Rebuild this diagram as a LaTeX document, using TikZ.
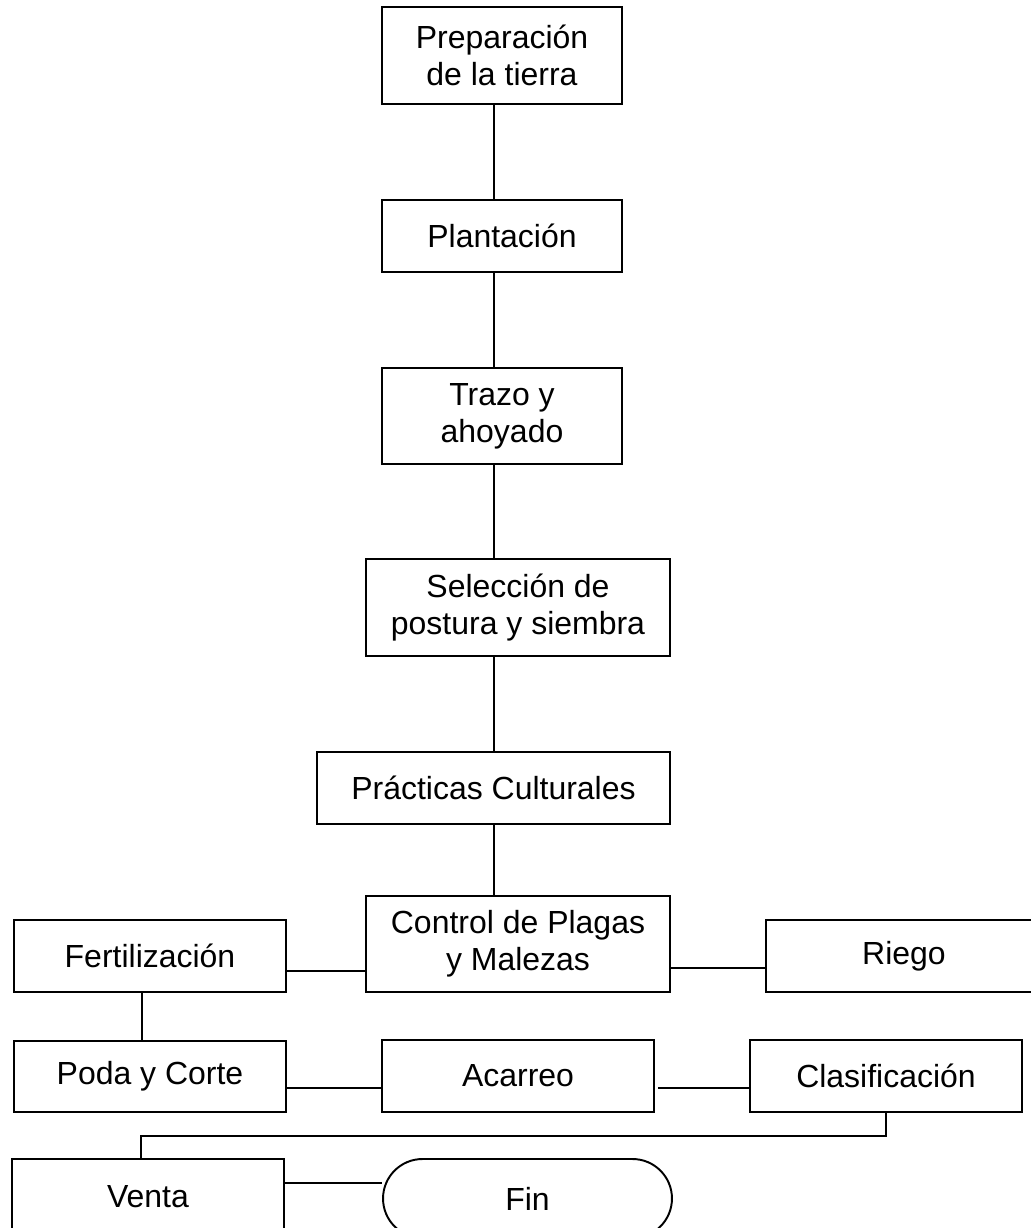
\documentclass[tikz,border=0pt]{standalone}
\usepackage{fontspec}
\newfontfamily\boxfont{Liberation Sans}
\usetikzlibrary{calc,shapes.misc}

\tikzset{
  paso/.style={draw, line width=1.1pt, inner sep=0pt, align=center,
    font={\boxfont\fontsize{18.2}{21}\selectfont}},
  enlace/.style={line width=1.1pt}
}

\begin{document}
\begin{tikzpicture}[x=0.02cm,y=-0.02cm]
\useasboundingbox (0,0) rectangle (1031,1228);
\clip (0,0) rectangle (1031,1228);

\node[paso, minimum width=4.8cm, minimum height=1.94cm] (prep) at (502,55.5) {Preparación\\de la tierra};
\node[paso, minimum width=4.8cm, minimum height=1.44cm] (plant) at (502,236) {Plantación};
\node[paso, minimum width=4.8cm, minimum height=1.92cm] (trazo) at (502,416) {Trazo y\\ahoyado};
\node[paso, minimum width=6.08cm, minimum height=1.94cm] (selec) at (518,607.5) {Selección de\\postura y siembra};
\node[paso, minimum width=7.06cm, minimum height=1.44cm] (pract) at (493.5,788) {Prácticas Culturales};
\node[paso, minimum width=6.08cm, minimum height=1.92cm] (control) at (518,944) {Control de Plagas\\y Malezas};

\node[paso, minimum width=5.44cm, minimum height=1.44cm] (fert) at (150,956) {Fertilización};
\node[paso, minimum width=5.52cm, minimum height=1.44cm] (riego) at (904,956) {Riego};

\node[paso, minimum width=5.44cm, minimum height=1.42cm] (poda) at (150,1076.5) {Poda y Corte};
\node[paso, minimum width=5.44cm, minimum height=1.44cm] (acarreo) at (518,1076) {Acarreo};
\node[paso, minimum width=5.44cm, minimum height=1.44cm] (clasif) at (886,1076) {Clasificación};

\node[paso, minimum width=5.44cm, minimum height=1.5cm] (venta) at (148,1196.5) {Venta};
\node[paso, rounded rectangle, minimum width=5.78cm, minimum height=1.58cm] (fin) at (527.5,1198.5) {Fin};

\coordinate (spine) at (494,0);
\coordinate (bend)  at (141,1136);

\draw[enlace] (prep.south -| spine) -- (plant.north -| spine);
\draw[enlace] (plant.south -| spine) -- (trazo.north -| spine);
\draw[enlace] (trazo.south -| spine) -- (selec.north -| spine);
\draw[enlace] (selec.south -| spine) -- (pract.north -| spine);
\draw[enlace] (pract.south -| spine) -- (control.north -| spine);

\draw[enlace] ([yshift=-0.3cm]fert.east) -- ([yshift=-0.3cm]fert.east -| control.west);
\draw[enlace] ([yshift=-0.24cm]riego.west -| control.east) -- ([yshift=-0.24cm]riego.west);
\draw[enlace] ([xshift=-0.16cm]fert.south) -- ([xshift=-0.16cm]fert.south |- poda.north);

\draw[enlace] ([yshift=-0.23cm]poda.east) -- ([yshift=-0.23cm]poda.east -| acarreo.west);
\draw[enlace] ([yshift=-0.24cm,xshift=0.06cm]acarreo.east) -- ([yshift=-0.24cm]clasif.west);
\draw[enlace] (clasif.south) |- (bend) -- ([xshift=-0.14cm]venta.north);
\draw[enlace] ([yshift=0.27cm]venta.east) -- ([yshift=0.27cm]venta.east -| fin.west);
\end{tikzpicture}
\end{document}
